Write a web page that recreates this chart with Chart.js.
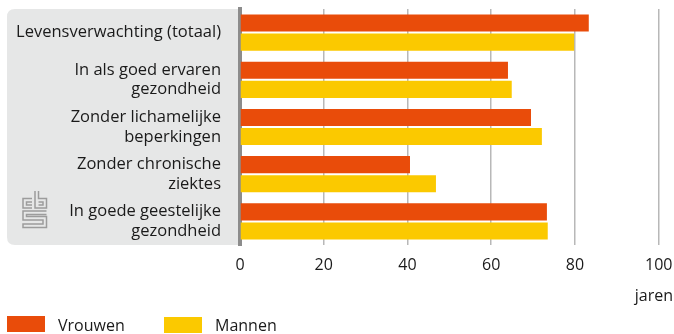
<!DOCTYPE html>
<html lang="nl">
<head>
<meta charset="utf-8">
<script src="https://cdn.jsdelivr.net/npm/chart.js@4"></script>
<style>
  body { margin: 0; background: #ffffff; }
  #chart { display: block; }
</style>
</head>
<body>
<canvas id="chart" width="674" height="334"></canvas>
<script>
const categories = [
    ["Levensverwachting (totaal)"],
    ["In als goed ervaren", "gezondheid"],
    ["Zonder lichamelijke", "beperkingen"],
    ["Zonder chronische", "ziektes"],
    ["In goede geestelijke", "gezondheid"]
]
const vrouwen = [83.3, 64.0, 69.5, 40.6, 73.3]
const mannen = [79.8, 64.9, 72.1, 46.8, 73.5]
const xTicks = [0, 20, 40, 60, 80, 100]
const eenheid = "jaren"

const FONT = "'Open Sans', 'Noto Sans', sans-serif"
const TEXT = "#1a1a1a"

// grijs vlak achter de labels + cbs logo
const panelPlugin = {
    id: "panel",
    beforeDraw(chart) {
        const ctx = chart.ctx
        const area = chart.chartArea
        const x0 = 7, y0 = area.top, r = 8
        const x1 = area.left, y1 = area.bottom
        ctx.save()
        ctx.fillStyle = "#e6e7e7"
        ctx.beginPath()
        ctx.moveTo(x0 + r, y0)
        ctx.lineTo(x1, y0)
        ctx.lineTo(x1, y1)
        ctx.lineTo(x0 + r, y1)
        ctx.quadraticCurveTo(x0, y1, x0, y1 - r)
        ctx.lineTo(x0, y0 + r)
        ctx.quadraticCurveTo(x0, y0, x0 + r, y0)
        ctx.fill()

        // logo
        ctx.strokeStyle = "#9c9c9c"
        ctx.lineWidth = 1.5
        ctx.beginPath()
        // c
        ctx.moveTo(32, 198.5); ctx.lineTo(23, 198.5); ctx.lineTo(23, 208); ctx.lineTo(32, 208)
        ctx.moveTo(32, 202); ctx.lineTo(26.5, 202); ctx.lineTo(26.5, 205); ctx.lineTo(32, 205)
        // b
        ctx.moveTo(35, 191); ctx.lineTo(35, 208); ctx.lineTo(46.5, 208); ctx.lineTo(46.5, 198.5); ctx.lineTo(38.5, 198.5); ctx.lineTo(38.5, 191)
        ctx.moveTo(38.5, 202); ctx.lineTo(43, 202); ctx.lineTo(43, 205); ctx.lineTo(38.5, 205)
        // s
        ctx.moveTo(46.5, 211); ctx.lineTo(23, 211); ctx.lineTo(23, 220); ctx.lineTo(43, 220); ctx.lineTo(43, 224); ctx.lineTo(23, 224); ctx.lineTo(23, 227.5); ctx.lineTo(46.5, 227.5); ctx.lineTo(46.5, 216.5); ctx.lineTo(26.5, 216.5); ctx.lineTo(26.5, 214.5); ctx.lineTo(46.5, 214.5)
        ctx.stroke()
        ctx.restore()
    },
    // eenheid rechtsonder en legenda onder de grafiek
    afterDraw(chart) {
        const ctx = chart.ctx
        ctx.save()
        ctx.font = "16px " + FONT
        ctx.fillStyle = TEXT
        ctx.textBaseline = "middle"
        ctx.textAlign = "right"
        ctx.fillText(eenheid, 673, 296)

        ctx.textAlign = "left"
        const items = [
            { x: 7, y: 316 },
            { x: 164, y: 317 }
        ]
        chart.data.datasets.forEach((ds, i) => {
            const p = items[i]
            ctx.fillStyle = ds.backgroundColor
            ctx.fillRect(p.x, p.y, 38, 16)
            ctx.fillStyle = TEXT
            ctx.fillText(ds.label, p.x + 51, 326)
        })
        ctx.restore()
    }
}

const data = {
    labels: categories,
    datasets: [
        {
            label: "Vrouwen",
            data: vrouwen,
            backgroundColor: "#e94c0a"
        },
        {
            label: "Mannen",
            data: mannen,
            backgroundColor: "#fbc900"
        }
    ]
}

const config = {
    type: "bar",
    data: data,
    plugins: [panelPlugin],
    options: {
        indexAxis: "y",
        responsive: false,
        animation: false,
        categoryPercentage: 0.81,
        barPercentage: 0.895,
        layout: {
            padding: { top: 9, right: 15.3, left: 0, bottom: 29 }
        },
        scales: {
            x: {
                min: 0,
                max: 100,
                afterBuildTicks: scale => {
                    scale.ticks = xTicks.map(v => ({ value: v }))
                },
                afterFit: scale => {
                    scale.height = 60
                    scale.paddingLeft = 0
                    scale.paddingRight = 0
                },
                grid: {
                    color: ctx => ctx.tick && ctx.tick.value === 0 ? "rgba(0,0,0,0)" : "#b8b8b8",
                    lineWidth: 1.5,
                    drawTicks: false
                },
                border: { display: false },
                ticks: {
                    color: TEXT,
                    padding: 11,
                    font: { family: FONT, size: 16 }
                }
            },
            y: {
                afterFit: scale => {
                    scale.width = 240
                    scale.paddingTop = 0
                    scale.paddingBottom = 0
                },
                grid: { display: false },
                border: { color: "#8c8c8c", width: 4 },
                ticks: {
                    autoSkip: false,
                    color: TEXT,
                    padding: 11,
                    font: { family: FONT, size: 16.5, lineHeight: 1.21 }
                }
            }
        },
        plugins: {
            legend: { display: false },
            tooltip: { enabled: false }
        }
    }
}

const myChart = new Chart(document.getElementById("chart"), config)
</script>
</body>
</html>
